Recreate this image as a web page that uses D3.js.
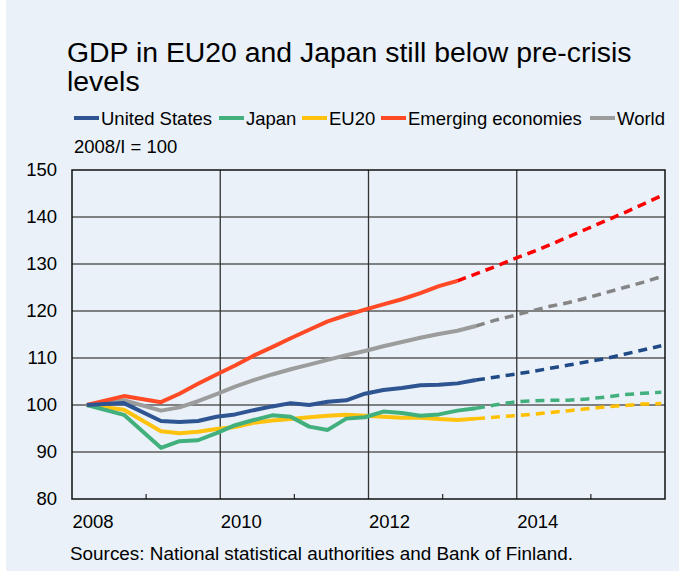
<!DOCTYPE html>
<html><head><meta charset="utf-8">
<script src="https://cdn.jsdelivr.net/npm/d3@7"></script>
<style>html,body{margin:0;padding:0;background:#fff;}svg{display:block;font-family:"Liberation Sans",Arial,sans-serif;}</style>
</head><body>
<script>
// ---- data ----
const quarters = ["2008Q1","2008Q3","2009Q1","2009Q2","2009Q3","2009Q4",
  "2010Q1","2010Q2","2010Q3","2010Q4","2011Q1","2011Q2","2011Q3","2011Q4",
  "2012Q1","2012Q2","2012Q3","2012Q4","2013Q1","2013Q2","2013Q3","2013Q4",
  "2014Q1","2014Q2","2014Q3","2014Q4","2015Q1","2015Q2","2015Q3","2015Q4"];
const seriesNames = ["United States","Japan","EU20","Emerging economies","World"];
const unitedStates = [100,100.4,96.6,96.4,96.6,97.5,98.0,98.9,99.7,100.4,100.0,100.7,101.0,102.4,103.2,103.6,104.2,104.3,104.6,105.3,105.9,106.5,107.1,107.8,108.5,109.2,109.9,110.8,111.7,112.6];
const japan = [100,97.9,90.9,92.3,92.5,94.0,95.7,96.8,97.8,97.5,95.4,94.7,97.1,97.4,98.6,98.3,97.7,98.0,98.8,99.3,100.0,100.6,100.9,101.0,101.0,101.3,101.7,102.2,102.5,102.7];
const eu20 = [100,99.0,94.4,94.0,94.3,94.9,95.3,96.2,96.7,97.0,97.4,97.7,97.9,97.7,97.5,97.3,97.3,97.0,96.8,97.1,97.4,97.7,98.0,98.4,98.8,99.2,99.6,99.9,100.2,100.3];
const emerging = [100,101.9,100.6,102.4,104.5,106.5,108.4,110.5,112.3,114.2,116.0,117.8,119.1,120.3,121.4,122.5,123.8,125.3,126.4,127.9,129.4,131.0,132.5,134.1,135.8,137.5,139.2,140.9,142.7,144.5];
const world = [100,101.0,98.8,99.5,100.8,102.3,103.9,105.3,106.5,107.6,108.6,109.6,110.6,111.5,112.5,113.4,114.3,115.1,115.8,116.8,118.0,119.0,120.0,121.0,121.8,122.8,123.9,125.0,126.1,127.3];
const lastActual = ["2013Q2","2013Q2","2013Q2","2013Q1","2013Q2"];
const yTicks = [80,90,100,110,120,130,140,150];
const xTickLabels = ["2008","2010","2012","2014"];
const minorTickYears = [2009,2011,2013,2015];
const colorsActual = ["#2e5592","#41b07d","#ffc20e","#ff4a25","#9c9c9c"];
const colorsForecast = ["#1f4a86","#41b07d","#ffc000","#ff0000","#858585"];

const W = 679, H = 577;
const m = {left:72, right:665, top:170, bottom:499};
const svg = d3.select("body").append("svg").attr("width",W).attr("height",H);
svg.append("rect").attr("x",6).attr("y",0).attr("width",W-6).attr("height",571).attr("fill","#eaf1f9");

const x = d3.scaleLinear().domain([2008,2016]).range([m.left,m.right]);
const y = d3.scaleLinear().domain([80,150]).range([m.bottom,m.top]);
const qPos = q => { const yr=+q.slice(0,4), n=+q.slice(5); return yr + (n-1)/4 + 0.2; };

// title
const title = svg.append("text").attr("x",67).attr("font-size",28.4).attr("fill","#000");
title.append("tspan").attr("x",67).attr("y",62).text("GDP in EU20 and Japan still below pre-crisis");
title.append("tspan").attr("x",67).attr("y",91).text("levels");

// legend
const legendX = [74,219,302,381,590];
seriesNames.forEach((s,i)=>{
  const g = svg.append("g").attr("transform",`translate(${legendX[i]},118)`);
  g.append("line").attr("x1",0).attr("x2",25).attr("y1",0).attr("y2",0).attr("stroke",colorsActual[i]).attr("stroke-width",4);
  g.append("text").attr("x",27).attr("y",6.5).attr("font-size",18.5).text(s);
});
svg.append("text").attr("x",74).attr("y",153).attr("font-size",18.5).text("2008/I = 100");

// horizontal grid
svg.append("g").selectAll("line").data(yTicks.slice(1,-1)).join("line")
  .attr("x1",m.left).attr("x2",m.right).attr("y1",d=>y(d)).attr("y2",d=>y(d))
  .attr("stroke","#5a5a5a").attr("stroke-width",1.3);
// vertical grid
svg.append("g").selectAll("line").data(xTickLabels.slice(1).map(Number)).join("line")
  .attr("x1",d=>x(d)).attr("x2",d=>x(d)).attr("y1",m.top).attr("y2",m.bottom)
  .attr("stroke","#333").attr("stroke-width",1.3);
// minor ticks
svg.append("g").selectAll("line").data(minorTickYears).join("line")
  .attr("x1",d=>x(d)).attr("x2",d=>x(d)).attr("y1",m.bottom).attr("y2",m.bottom-5)
  .attr("stroke","#333").attr("stroke-width",1.3);
// frame
svg.append("rect").attr("x",m.left).attr("y",m.top).attr("width",m.right-m.left).attr("height",m.bottom-m.top)
  .attr("fill","none").attr("stroke","#111").attr("stroke-width",1.5);

// y labels via axis
const yAxis = svg.append("g").attr("transform",`translate(${m.left},0)`)
  .call(d3.axisLeft(y).tickValues(yTicks).tickSize(0).tickPadding(15));
yAxis.select(".domain").remove();
yAxis.selectAll("text").attr("font-size",18.5).attr("fill","#000").attr("font-family","Liberation Sans, Arial, sans-serif");

// x labels
const xAxis = svg.append("g").attr("transform",`translate(0,${m.bottom})`)
  .call(d3.axisBottom(x).tickValues(xTickLabels.map(Number)).tickFormat(d3.format("d")).tickSize(0).tickPadding(16));
xAxis.select(".domain").remove();
xAxis.selectAll("text").attr("font-size",18.5).attr("fill","#000").attr("text-anchor","start").attr("font-family","Liberation Sans, Arial, sans-serif");

// sources
svg.append("text").attr("x",70).attr("y",560).attr("font-size",18.9).text("Sources: National statistical authorities and Bank of Finland.");

// lines
const all = [unitedStates,japan,eu20,emerging,world];
const line = d3.line().x(d=>x(qPos(d.q))).y(d=>y(d.v));
const drawOrder = [4,3,2,1,0];
drawOrder.forEach(i=>{
  const pts = quarters.map((q,j)=>({q,v:all[i][j]}));
  const cut = quarters.indexOf(lastActual[i]);
  svg.append("path").attr("d",line(pts.slice(cut))).attr("fill","none")
    .attr("stroke",colorsForecast[i]).attr("stroke-width",3.5).attr("stroke-dasharray","9,6");
});
drawOrder.forEach(i=>{
  const pts = quarters.map((q,j)=>({q,v:all[i][j]}));
  const cut = quarters.indexOf(lastActual[i]);
  svg.append("path").attr("d",line(pts.slice(0,cut+1))).attr("fill","none")
    .attr("stroke",colorsActual[i]).attr("stroke-width",4).attr("stroke-linejoin","round");
});
</script>
</body></html>
